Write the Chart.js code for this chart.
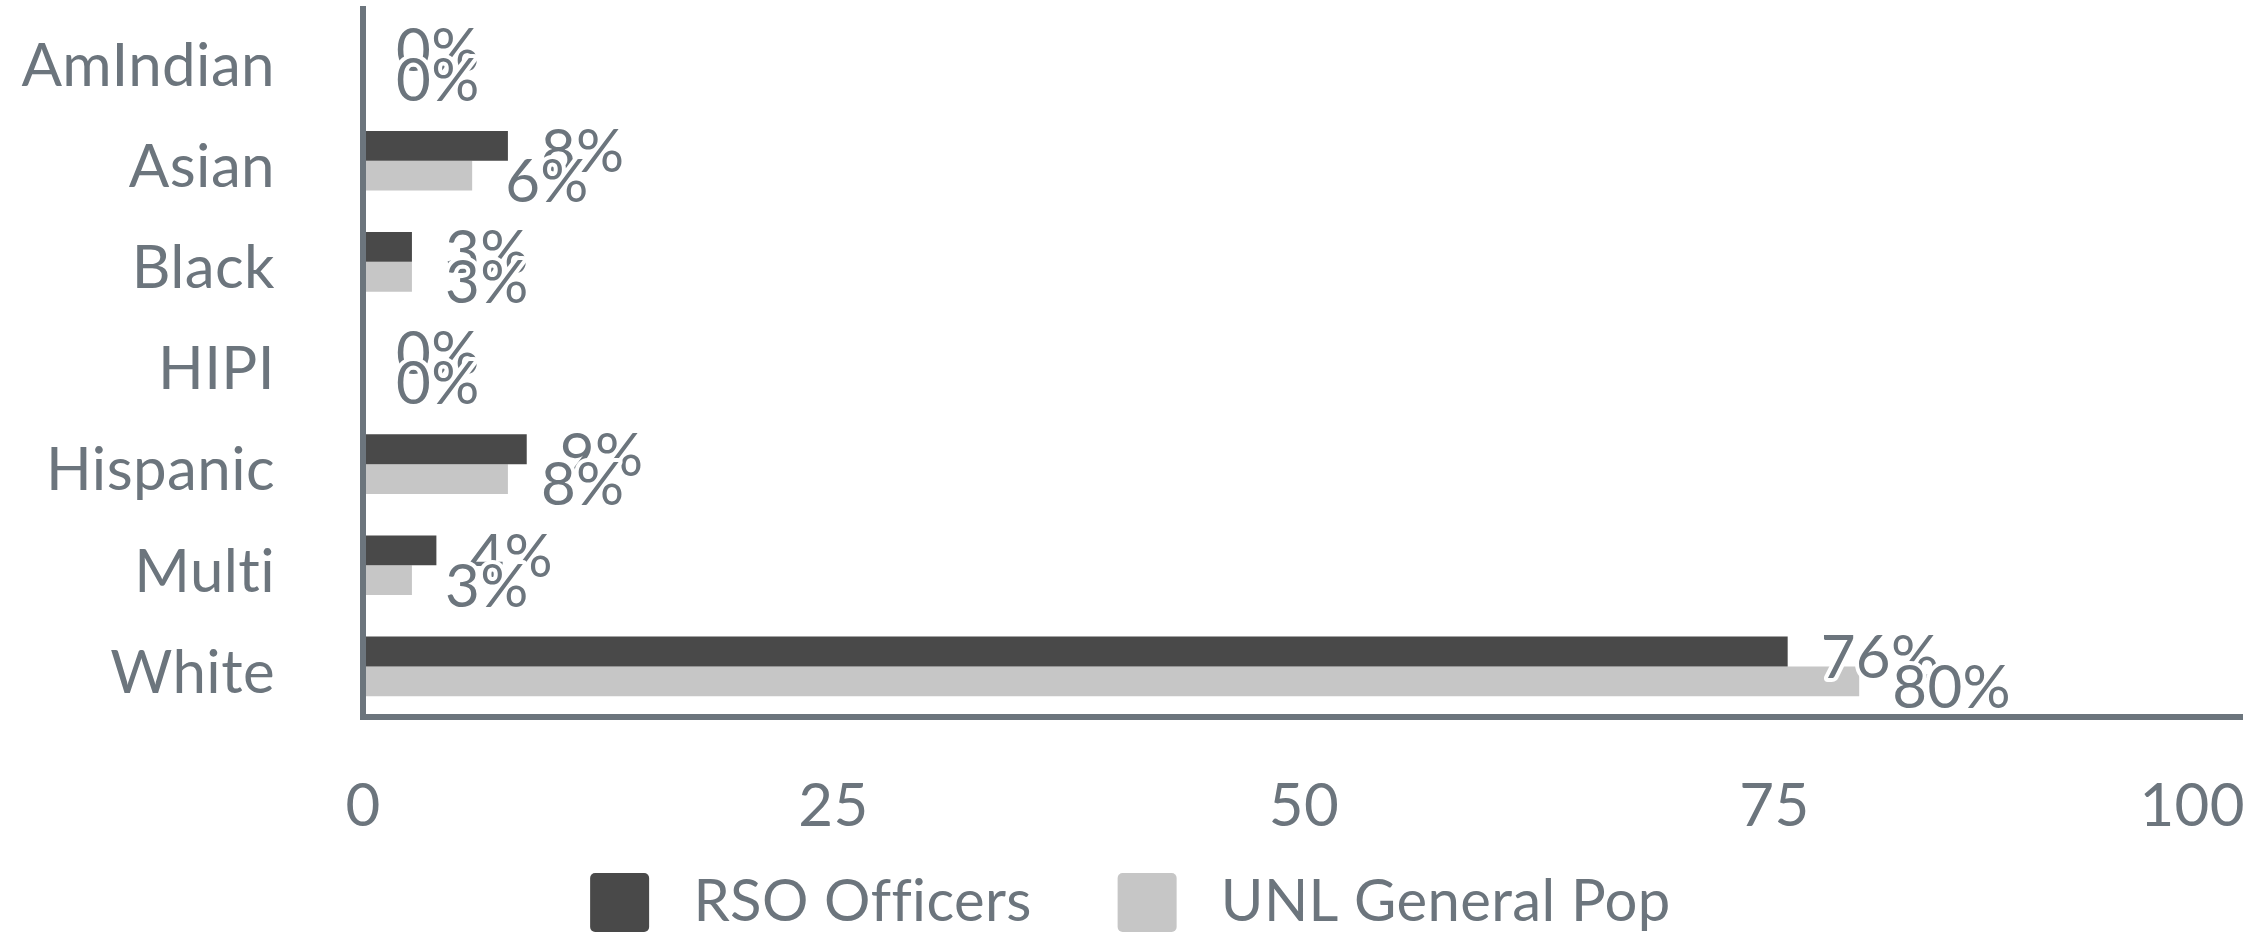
<!DOCTYPE html>
<html>
<head>
<meta charset="utf-8">
<script src="https://cdn.jsdelivr.net/npm/chart.js@4.4.1/dist/chart.umd.min.js"></script>
<style>
  html, body { margin: 0; padding: 0; background: #ffffff; overflow: hidden; }
  #wrap { position: relative; width: 2292px; height: 942px; }
</style>
</head>
<body>
<div id="wrap"><canvas id="myChart"></canvas></div>
<script>
//Chart data.
const categories = ['AmIndian', 'Asian', 'Black', 'HIPI', 'Hispanic', 'Multi', 'White'];
const rsoOfficers = [0, 7.7, 2.6, 0, 8.7, 3.9, 75.7];
const unlGeneralPop = [0, 5.8, 2.6, 0, 7.7, 2.6, 79.5];
const xTicks = [0, 25, 50, 75, 100];
const seriesNames = ['RSO Officers', 'UNL General Pop'];

const textColor = '#6c757d';
const darkBar = '#494949';
const lightBar = '#c6c6c6';
const lastTick = xTicks[xTicks.length - 1];
const tickFont = { family: 'Lato', size: 60, lineHeight: 1 };
const hiddenGrid = { display: true, drawOnChartArea: false, drawTicks: true, tickLength: 58, color: 'rgba(0,0,0,0)' };


//No ligatures (Multi, Officers): a tiny letter spacing turns them off.
const noLigatures = {
    id: 'noLigatures',
    beforeDraw(chart) {
        chart.ctx.letterSpacing = '0.4px';
    }
};

//Percent labels at the end of each bar, white outline like datalabels.
const barLabels = {
    id: 'barLabels',
    afterDatasetsDraw(chart) {
        const ctx = chart.ctx;
        ctx.save();
        ctx.font = '60px Lato';
        ctx.textAlign = 'left';
        ctx.textBaseline = 'middle';
        ctx.lineJoin = 'round';
        ctx.lineWidth = 8;
        ctx.strokeStyle = '#ffffff';
        ctx.fillStyle = textColor;
        chart.data.datasets.forEach((ds, i) => {
            chart.getDatasetMeta(i).data.forEach((bar, j) => {
                const txt = Math.round(ds.data[j]) + '%';
                ctx.strokeText(txt, bar.x + 33, bar.y + 7);
                ctx.fillText(txt, bar.x + 33, bar.y + 7);
            });
        });
        ctx.restore();
    }
};


const ctx = document.getElementById('myChart').getContext('2d');
const chart = new Chart(ctx, {
    type: 'bar',
    data: {
        labels: categories,
        datasets: [{
            label: seriesNames[0],
            data: rsoOfficers,
            backgroundColor: darkBar,
            borderWidth: 0,
            categoryPercentage: 0.59,
            barPercentage: 1
        }, {
            label: seriesNames[1],
            data: unlGeneralPop,
            backgroundColor: lightBar,
            borderWidth: 0,
            categoryPercentage: 0.59,
            barPercentage: 1
        }]
    },
    options: {
        indexAxis: 'y',
        responsive: true,
        maintainAspectRatio: false,
        animation: false,
        layout: { padding: { left: 0, right: 47, top: 9, bottom: 0 } },
        plugins: {
            tooltip: { enabled: false },
            legend: {
                position: 'bottom',
                labels: {
                    color: textColor,
                    font: { family: 'Lato', size: 58 },
                    boxWidth: 59,
                    boxHeight: 59,
                    padding: 40,
                    useBorderRadius: true,
                    borderRadius: 5,
                    generateLabels: (c) => Chart.defaults.plugins.legend.labels.generateLabels(c).map((item, i) => {
                        item.text = ' ' + item.text + (i === 0 ? '   ' : '');
                        item.lineWidth = 0;
                        return item;
                    })
                }
            }
        },
        scales: {
            x: {
                min: 0,
                max: lastTick,
                afterBuildTicks: (s) => { s.ticks = xTicks.map(v => ({ value: v })); },
                afterFit: (s) => { s.height = 116; },
                grid: hiddenGrid,
                border: { display: true, color: textColor, width: 6, z: 1 },
                ticks: {
                    padding: 2,
                    color: textColor,
                    font: tickFont,
                    //last label is drawn right-aligned by the xEnd axis
                    callback: (v) => v === lastTick ? '' : v
                }
            },
            xEnd: {
                type: 'linear',
                axis: 'x',
                //pinned to the bottom edge of the category axis
                position: { y: categories.length - 0.5 },
                min: 0,
                max: lastTick,
                afterBuildTicks: (s) => { s.ticks = [{ value: lastTick }]; },
                grid: hiddenGrid,
                border: { display: false },
                ticks: {
                    align: 'end',
                    padding: 2,
                    color: textColor,
                    font: tickFont
                }
            },
            y: {
                afterFit: (s) => { s.width = 363; },
                grid: { display: true, drawOnChartArea: false, drawTicks: true, tickLength: 86, color: 'rgba(0,0,0,0)' },
                border: { display: true, color: textColor, width: 6, z: 1 },
                ticks: {
                    padding: 2,
                    labelOffset: 7,
                    color: textColor,
                    font: { family: 'Lato', size: 60, lineHeight: 0.2 }
                }
            }
        }
    },
    plugins: [noLigatures, barLabels]
});
</script>
</body>
</html>
